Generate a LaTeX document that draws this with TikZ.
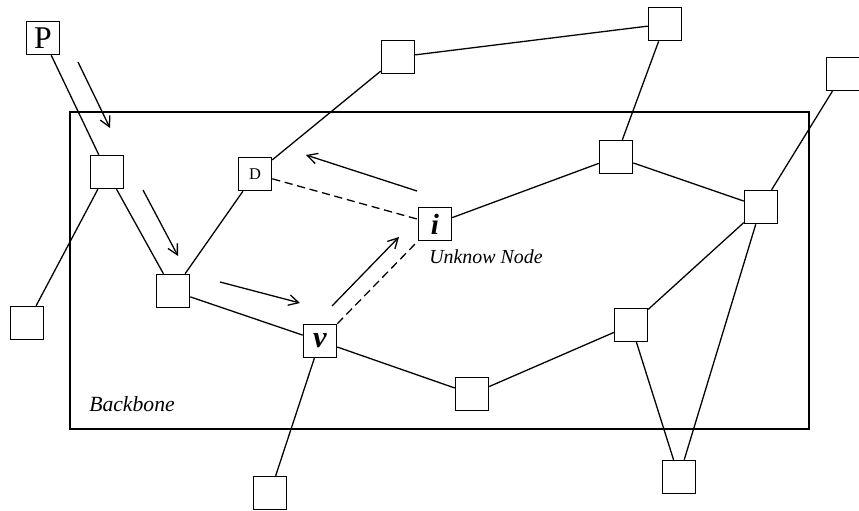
\documentclass[tikz,border=0pt]{standalone}
\usepackage{fontspec}
\setmainfont{Liberation Serif}
\usepackage{tikz}
\usetikzlibrary{arrows.meta, positioning}
\tikzset{
  netnode/.style={draw, line width=1.3pt, fill=white, minimum size=0.99cm,
                  inner sep=0pt, font=\fontsize{14}{14}\selectfont},
  link/.style={line width=1.1pt},
  guesslink/.style={link, dash pattern=on 7pt off 4pt},
  hoparrow/.style={-{Straight Barb[length=3mm, width=3.2mm]}, line width=1.1pt},
  backbonebox/.style={line width=1.3pt},
  netlabel/.style={font=\fontsize{17}{17}\selectfont\itshape}
}

\begin{document}
\begin{tikzpicture}[x=0.03cm, y=-0.03cm]

\useasboundingbox (0,0) rectangle (859,511);

% --- Backbone region ---
\draw[backbonebox] (70,112) rectangle (809,429);
\node[netlabel, font=\fontsize{18.5}{18.5}\selectfont\itshape] (bb) at (132,404) {Backbone};

% --- Nodes ---
\node[netnode, font=\fontsize{27}{27}\selectfont] (p) at (43,38) {P};
\node[netnode] (a1) at (107,172) {};
\node[netnode] (a0) at (27,323) {};
\node[netnode] (a2) at (173,291) {};
\node[netnode] (d)  at (255,174) {D};
\node[netnode] (t1) at (398,57)  {};
\node[netnode] (t2) at (665,24)  {};
\node[netnode] (t3) at (843,74)  {};
\node[netnode, font=\fontsize{25}{25}\selectfont\bfseries\itshape] (i) at (435,224) {i};
\node[netnode] (r1) at (616,157) {};
\node[netnode] (r2) at (761,207) {};
\node[netnode, font=\fontsize{26}{26}\selectfont\bfseries\itshape] (v) at (320,341) {v};
\node[netnode] (b1) at (472,394) {};
\node[netnode] (r3) at (631,325) {};
\node[netnode] (b2) at (679,477) {};
\node[netnode] (b0) at (270,493) {};

\node[netlabel] (unk) at (486,257) {Unknow Node};

% --- Links ---
\draw[link] (p) -- (a1);
\draw[link] (a1) -- (a0);
\draw[link] (a1) -- (a2);
\draw[link] (a2) -- (d);
\draw[link] (d) -- (t1);
\draw[link] (t1) -- (t2);
\draw[link] (t2) -- (r1);
\draw[link] (r1) -- (i);
\draw[link] (r1) -- (r2);
\draw[link] (r2) -- (t3);
\draw[link] (r2) -- (b2);
\draw[link] (r3) -- (r2);
\draw[link] (r3) -- (b2);
\draw[link] (r3) -- (b1);
\draw[link] (b1) -- (v);
\draw[link] (v) -- (a2);
\draw[link] (v) -- (b0);

% --- Links through the unknown node ---
\draw[guesslink] (d) -- (i);
\draw[guesslink] (v.north east) -- (i.south west);

% --- Path of the packet ---
\coordinate (h1s) at (78,62);   \coordinate (h1e) at (110,128);
\coordinate (h2s) at (143,190); \coordinate (h2e) at (178,256);
\coordinate (h3s) at (220,282); \coordinate (h3e) at (300,303);
\coordinate (h4s) at (332,306); \coordinate (h4e) at (399,237);
\coordinate (h5s) at (417,191); \coordinate (h5e) at (306,155);
\draw[hoparrow] (h1s) -- (h1e);
\draw[hoparrow] (h2s) -- (h2e);
\draw[hoparrow] (h3s) -- (h3e);
\draw[hoparrow] (h4s) -- (h4e);
\draw[hoparrow] (h5s) -- (h5e);

\end{tikzpicture}
\end{document}
